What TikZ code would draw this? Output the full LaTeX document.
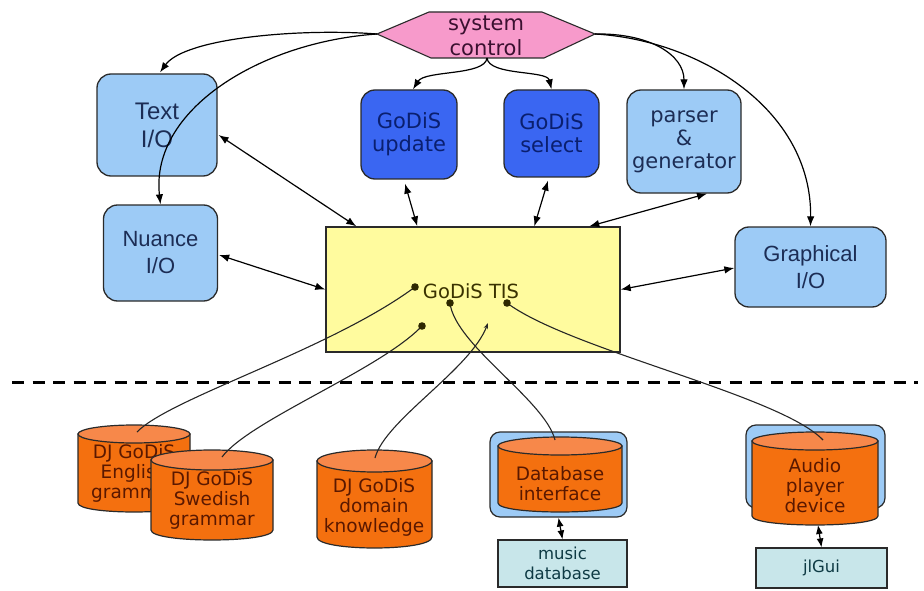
\documentclass[tikz,border=0pt]{standalone}
\usepackage{fontspec}
\newfontfamily\vfont{DejaVu Sans}
\newfontfamily\afont{Liberation Sans}
\usetikzlibrary{arrows.meta,calc}
\definecolor{lblue}{HTML}{9DCBF6}
\definecolor{dblue}{HTML}{3A66F2}
\definecolor{pinkc}{HTML}{F79ACB}
\definecolor{yel}{HTML}{FFFB9E}
\definecolor{orng}{HTML}{F4700F}
\definecolor{orngtop}{HTML}{F7884A}
\definecolor{boxteal}{HTML}{C8E6EA}
\definecolor{navytxt}{HTML}{1C2D55}
\definecolor{dnavy}{HTML}{0A1F6F}
\definecolor{maroon}{HTML}{3B1030}
\definecolor{olive}{HTML}{3A3200}
\definecolor{brown}{HTML}{5A1800}
\definecolor{tealtxt}{HTML}{0E3A44}
\definecolor{edge}{HTML}{2A2A2A}
\tikzset{
  lbox/.style={draw=edge, line width=1.3pt, fill=lblue, rounded corners=14pt, align=center, inner sep=0pt,
    text=navytxt, font=\afont\fontsize{22}{27}\selectfont},
  dbox/.style={draw=edge, line width=1.3pt, fill=dblue, rounded corners=14pt, align=center, inner sep=0pt,
    text=dnavy, font=\vfont\fontsize{21}{23}\selectfont},
  pbox/.style={lbox, font=\vfont\fontsize{21}{23}\selectfont},
  backbox/.style={draw=edge, line width=1.2pt, fill=lblue, rounded corners=10pt, inner sep=0pt},
  tealbox/.style={draw=edge, line width=1.2pt, fill=boxteal, align=center, inner sep=0pt,
    text=tealtxt, font=\vfont\fontsize{16.5}{20}\selectfont},
  cyltext/.style={align=center, inner sep=0pt, text=brown, font=\vfont\fontsize{18.5}{20}\selectfont},
  cylbody/.style={draw=edge, line width=1.2pt, fill=orng},
  cyltop/.style={draw=edge, line width=1.2pt, fill=orngtop},
  con/.style={line width=1.2pt, -{Latex[length=10pt,width=7.5pt]}},
  bicon/.style={line width=1.2pt, {Latex[length=10pt,width=7.5pt]}-{Latex[length=10pt,width=7.5pt]}},
  thin/.style={line width=1.1pt, draw=black!85},
  dotc/.style={fill=olive!80!black},
}
\newcommand\drawcyl[5]{%
  \path[cylbody] (#1,#3) -- (#1,#4) .. controls (#1,{#4+1.333*#5}) and (#2,{#4+1.333*#5}) .. (#2,#4) -- (#2,#3) -- cycle;
  \path[cyltop] ({(#1+#2)/2},#3) ellipse [x radius={(#2-#1)/2*1pt}, y radius=#5pt];
}
\begin{document}
\begin{tikzpicture}[x=1pt,y=-1pt]
\useasboundingbox (0,0) rectangle (924,591);

% system control hexagon
\coordinate (scL) at (377,34);
\coordinate (scR) at (595,34);
\coordinate (scB) at (487,58);
\path[draw=edge, line width=1.1pt, fill=pinkc] (scL) -- (429,12) -- (542,12) -- (scR) -- (544,58) -- (431,58) -- cycle;
\node[align=center, inner sep=0pt, text=maroon, font=\vfont\fontsize{21}{25}\selectfont] (sc) at (486,36) {system\\control};

% top boxes
\node[lbox, minimum width=120pt, minimum height=102pt, font=\afont\fontsize{24}{28}\selectfont] (textio) at (157,125) {Text\\I/O};
\node[lbox, minimum width=114pt, minimum height=96pt] (nuance) at (160.5,253) {Nuance\\I/O};
\node[dbox, minimum width=96pt, minimum height=89pt] (update) at (409,134.5) {GoDiS\\update};
\node[dbox, minimum width=95pt, minimum height=87pt] (select) at (551.5,133.5) {GoDiS\\select};
\node[pbox, minimum width=114pt, minimum height=103pt] (parser) at (684,141.5) {parser\\\&\\generator};
\node[lbox, minimum width=151pt, minimum height=80pt] (graph) at (810.5,267) {Graphical\\I/O};
\node[draw=edge, line width=1.4pt, fill=yel, minimum width=294pt, minimum height=125pt, inner sep=0pt] (tis) at (473,289.5) {};
\node[text=olive, inner sep=0pt, font=\vfont\fontsize{19.5}{22}\selectfont] (tislabel) at (471,291) {GoDiS TIS};

% control curves from system control
\draw[con] (scL) .. controls (300,28) and (185,38) .. ($(textio.north)+(3,-1)$);
\draw[con] (scL) .. controls (260,42) and (150,110) .. (nuance.north);
\draw[con] (scB) .. controls (485,76) and (425,70) .. ($(update.north)+(4,0)$);
\draw[con] (scB) .. controls (489,76) and (547,70) .. (select.north);
\draw[con] (scR) .. controls (650,33) and (684,55) .. (parser.north);
\draw[con] (scR) .. controls (700,40) and (812,110) .. (graph.north);

% bidirectional links to TIS
\draw[bicon] ($(textio.east)+(1,10)$) -- ($(tis.north west)+(31,0)$);
\draw[bicon] ($(nuance.east)+(1,2)$) -- (tis.west);
\draw[bicon] ($(update.south)+(-4,4)$) -- ($(tis.north west)+(92,0)$);
\draw[bicon] ($(select.south)+(-3.5,3)$) -- ($(tis.north west)+(209,0)$);
\draw[bicon] ($(parser.south)+(23,0)$) -- ($(tis.north west)+(264,0)$);
\draw[bicon] ($(graph.west)+(0,1)$) -- (tis.east);

% dashed separator
\coordinate (dashL) at (12,382);
\coordinate (dashR) at (918,382);
\draw[line width=3pt, dash pattern=on 12pt off 8.5pt] (dashL) -- (dashR);

% cylinders
\drawcyl{78}{190}{434}{503}{9}
\node[cyltext] (eng) at (134,473) {DJ GoDiS\\English\\grammar};
\drawcyl{151}{273}{460}{530}{10}
\node[cyltext] (swe) at (212,500) {DJ GoDiS\\Swedish\\grammar};
\drawcyl{317}{432}{461}{537}{11}
\node[cyltext] (dom) at (374,507) {DJ GoDiS\\domain\\knowledge};

\node[backbox, minimum width=137pt, minimum height=85pt] (dbback) at (558.5,474.5) {};
\drawcyl{498}{622}{446}{503}{9}
\node[cyltext] (dbi) at (560,484) {Database\\interface};

\node[backbox, minimum width=139pt, minimum height=83pt] (audback) at (815.5,466.5) {};
\drawcyl{752}{878}{441}{516}{9}
\node[cyltext] (aud) at (815,486) {Audio\\player\\device};
\coordinate (audbot) at (818,525);

\node[tealbox, minimum width=129pt, minimum height=47pt] (music) at (562.5,563.5) {music\\database};
\node[tealbox, minimum width=131pt, minimum height=40pt] (jlgui) at (821.5,568) {jlGui};

\draw[line width=1.2pt, {Latex[length=9pt,width=7pt]}-{Latex[length=9pt,width=7pt]}] (dbback.south) -- (music.north);
\draw[line width=1.2pt, {Latex[length=9pt,width=7pt]}-{Latex[length=9pt,width=7pt]}] (audbot) -- (jlgui.north);

% links from knowledge sources into TIS
\coordinate (engtop) at (137,432);
\coordinate (swetop) at (222,457);
\coordinate (domtop) at (375,458);
\coordinate (dbtop) at (555,440);
\coordinate (audtop) at (823,440);
\coordinate (d1) at (415,287);
\coordinate (d2) at (422,326);
\coordinate (d3) at (488,323);
\coordinate (d4) at (450,303);
\coordinate (d5) at (507,303);
\draw[thin] (engtop) .. controls (170,398) and (330,350) .. (d1);
\draw[thin] (swetop) .. controls (250,420) and (380,370) .. (d2);
\draw[thin, -{Stealth[length=6pt,width=4.5pt]}] (domtop) .. controls (385,420) and (470,370) .. (d3);
\draw[thin] (dbtop) .. controls (545,400) and (455,345) .. (d4);
\draw[thin] (audtop) .. controls (780,395) and (570,350) .. (d5);
\foreach \d in {d1,d2,d4,d5} \fill[dotc] (\d) circle (3.8pt);
\end{tikzpicture}
\end{document}
